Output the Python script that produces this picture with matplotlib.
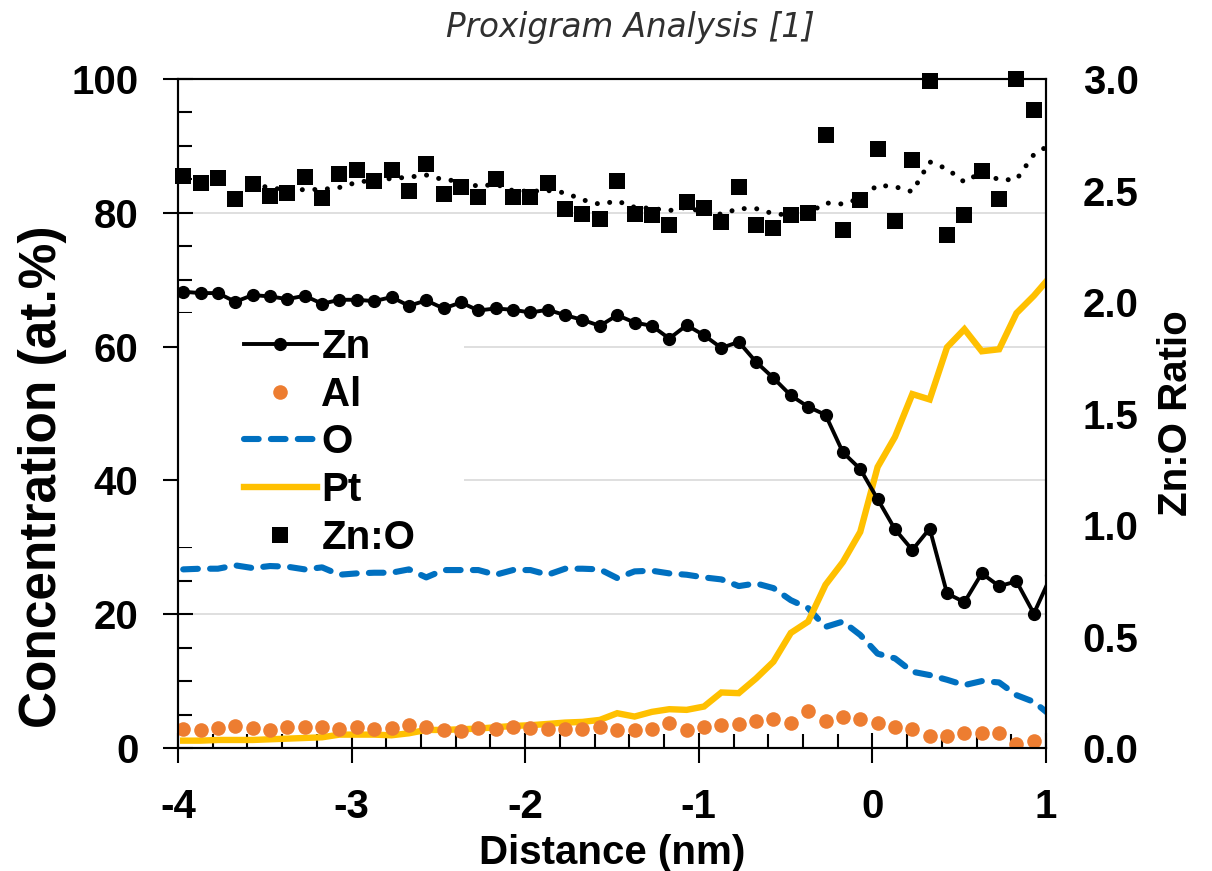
import matplotlib
matplotlib.use("Agg")
import matplotlib.pyplot as plt
import numpy as np
import pandas as pd
from matplotlib.patches import Rectangle
from matplotlib.ticker import MultipleLocator, FormatStrFormatter

# ---------------- data ----------------
distance = [-3.97, -3.87, -3.77, -3.67, -3.57, -3.47, -3.37, -3.27, -3.17, -3.07,
            -2.97, -2.87, -2.77, -2.67, -2.57, -2.47, -2.37, -2.27, -2.17, -2.07,
            -1.97, -1.87, -1.77, -1.67, -1.57, -1.47, -1.37, -1.27, -1.17, -1.07,
            -0.97, -0.87, -0.77, -0.67, -0.57, -0.47, -0.37, -0.27, -0.17, -0.07,
            0.03, 0.13, 0.23, 0.33, 0.43, 0.53, 0.63, 0.73, 0.83, 0.93, 1.03]

zn = [68.2, 68.0, 68.0, 66.7, 67.7, 67.5, 67.1, 67.6, 66.4, 67.0,
      67.0, 66.8, 67.4, 66.1, 66.9, 65.7, 66.6, 65.4, 65.7, 65.5,
      65.1, 65.5, 64.7, 64.0, 63.1, 64.7, 63.6, 63.1, 61.2, 63.2,
      61.7, 59.8, 60.7, 57.7, 55.3, 52.7, 51.0, 49.8, 44.2, 41.7,
      37.2, 32.7, 29.6, 32.8, 23.1, 21.8, 26.1, 24.2, 24.9, 20.1, 25.8]

al = [2.8, 2.7, 3.0, 3.3, 3.0, 2.7, 3.2, 3.2, 3.2, 2.9,
      3.2, 2.8, 3.0, 3.4, 3.1, 2.7, 2.5, 3.0, 2.9, 3.1,
      3.0, 2.8, 2.9, 2.9, 3.2, 2.7, 2.7, 2.8, 3.8, 2.7,
      3.2, 3.4, 3.6, 4.0, 4.3, 3.7, 5.5, 4.1, 4.7, 4.4,
      3.7, 3.2, 2.8, 1.8, 1.8, 2.3, 2.3, 2.3, 0.55, 1.1]

o = [26.7, 26.8, 26.8, 27.3, 26.9, 27.2, 27.1, 26.7, 27.0, 25.9,
     26.1, 26.2, 26.2, 26.7, 25.5, 26.6, 26.6, 26.6, 25.9, 26.6,
     26.6, 25.9, 26.8, 26.8, 26.7, 25.4, 26.4, 26.5, 26.1, 25.9,
     25.5, 25.2, 24.2, 24.6, 23.9, 22.1, 20.9, 18.1, 18.9, 16.9,
     14.1, 13.4, 11.4, 10.9, 10.2, 9.4, 10.0, 9.8, 7.9, 6.9, 4.8]

pt = [1.1, 1.1, 1.2, 1.2, 1.2, 1.3, 1.4, 1.5, 1.6, 2.0,
      2.0, 2.0, 1.9, 2.2, 2.7, 2.7, 2.8, 2.9, 3.1, 3.3,
      3.4, 3.6, 3.8, 3.9, 4.2, 5.2, 4.7, 5.4, 5.8, 5.7,
      6.2, 8.3, 8.2, 10.4, 12.9, 17.2, 18.9, 24.4, 27.8, 32.3,
      42.0, 46.5, 52.9, 52.1, 59.9, 62.6, 59.3, 59.6, 65.0, 67.6, 70.6]

zn_o_ratio = [2.566, 2.535, 2.557, 2.460, 2.530, 2.477, 2.490, 2.562, 2.465, 2.574,
              2.592, 2.544, 2.592, 2.499, 2.619, 2.486, 2.517, 2.469, 2.552, 2.471,
              2.472, 2.535, 2.418, 2.396, 2.371, 2.544, 2.395, 2.392, 2.347, 2.448,
              2.423, 2.359, 2.517, 2.347, 2.333, 2.392, 2.399, 2.750, 2.323, 2.459,
              2.688, 2.365, 2.638, 2.992, 2.302, 2.392, 2.589, 2.463, 3.000, 2.862, 2.630]

x_ticks = [-4, -3, -2, -1, 0, 1]
left_ticks = [0, 20, 40, 60, 80, 100]
right_ticks = [0.0, 0.5, 1.0, 1.5, 2.0, 2.5, 3.0]

# ---------------- style ----------------
plt.rcParams['font.family'] = ['Liberation Sans', 'DejaVu Sans']
plt.rcParams['font.weight'] = 'bold'
plt.rcParams['axes.linewidth'] = 1.5
plt.rcParams['axes.unicode_minus'] = False

C_ZN = 'black'
C_AL = '#ED7D31'
C_O = '#0070C0'
C_PT = '#FFC000'
FS = 29

fig = plt.figure(figsize=(12.12, 8.71), dpi=100)
ax = fig.add_axes([178 / 1212, 123 / 871, 868 / 1212, 669 / 871])
ax2 = ax.twinx()

df = pd.DataFrame({'distance': distance, 'ratio': zn_o_ratio})
trend = df['ratio'].rolling(5).mean()
shown = df['distance'] <= 1.0

# primary axis series
ax.plot(distance, o, color=C_O, lw=4.4, linestyle=(0, (2.4, 2.0)),
        dash_capstyle='round', zorder=3, label='O')
ax.plot(distance, pt, color=C_PT, lw=4.6, solid_joinstyle='miter', zorder=4, label='Pt')
ax.plot(distance[:len(al)], al, linestyle='none', marker='o', ms=10.5,
        color=C_AL, markeredgewidth=0, zorder=5, label='Al')
ax.plot(distance, zn, color=C_ZN, lw=2.8, marker='o', ms=8.5, zorder=6, label='Zn')

# secondary axis series
ax2.plot(df['distance'], trend, color='black', lw=3.6, linestyle=(0, (0.01, 2.5)),
         dash_capstyle='round', zorder=2)
ax2.plot(df['distance'][shown], df['ratio'][shown], linestyle='none', marker='s',
         ms=11.5, color='black', markeredgewidth=0, clip_on=False, zorder=3, label='Zn:O')

# axes ranges & ticks
ax.set_xlim(-4, 1)
ax.set_ylim(0, 100)
ax2.set_ylim(0, 3.0)
ax.set_xticks(x_ticks)
ax.set_yticks(left_ticks)
ax2.set_yticks(right_ticks)
ax2.yaxis.set_major_formatter(FormatStrFormatter('%.1f'))
ax.xaxis.set_minor_locator(MultipleLocator(0.2))
ax.yaxis.set_minor_locator(MultipleLocator(5))

ax.tick_params(axis='both', which='major', direction='inout', length=21, width=1.5,
               labelsize=FS, pad=18, top=False, right=False)
ax.tick_params(axis='both', which='minor', direction='in', length=10, width=1.5,
               top=False, right=False)
ax2.tick_params(axis='y', which='both', length=0, labelsize=FS, pad=26.5)

ax.yaxis.grid(True, color='#D9D9D9', lw=1.2)
ax.set_axisbelow(True)
ax.add_patch(Rectangle((0, 0.30), 0.33, 0.35, transform=ax.transAxes,
                       facecolor='white', edgecolor='none', zorder=0.8))

# labels
ax.set_xlabel('Distance (nm)', fontsize=FS, fontweight='bold')
ax.xaxis.set_label_coords(0.5, -0.128)
ax.set_ylabel('Concentration (at.%)', fontsize=37, fontweight='bold')
ax.yaxis.set_label_coords(-0.128, 0.405)
ax2.set_ylabel('Zn:O Ratio', fontsize=FS, fontweight='bold')
ax2.yaxis.set_label_coords(1.128, 0.5)

fig.text(630 / 1212, 1 - 27 / 871, 'Proxigram Analysis [1]', ha='center', va='center',
         fontsize=23.5, fontstyle='italic', fontweight='normal', color='#303030',
         family=['DejaVu Sans'])

# legend
h1, l1 = ax.get_legend_handles_labels()
h2, l2 = ax2.get_legend_handles_labels()
hd = dict(zip(l1 + l2, h1 + h2))
order = ['Zn', 'Al', 'O', 'Pt', 'Zn:O']
leg = ax2.legend([hd[k] for k in order], order, loc='upper left',
                 bbox_to_anchor=((244 - 178) / 868, (748 - 328) / 669),
                 bbox_transform=ax.transAxes, frameon=False, borderpad=0,
                 borderaxespad=0, fontsize=FS, handlelength=1.8, handletextpad=0.12,
                 labelspacing=0.24, numpoints=1)
for t in leg.get_texts():
    t.set_fontweight('bold')

fig.savefig('out.png', dpi=100)
